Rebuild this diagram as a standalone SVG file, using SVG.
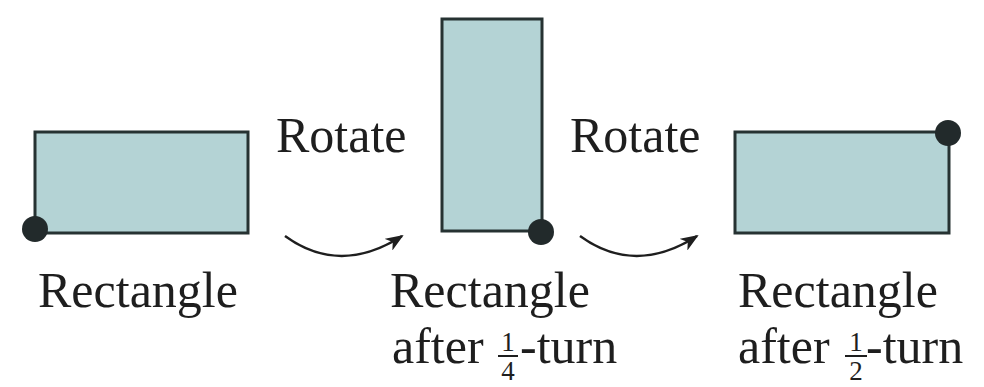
<svg xmlns="http://www.w3.org/2000/svg" width="984" height="387" viewBox="0 0 984 387">
<style>
.shape{fill:#b4d3d5;stroke:#263232;stroke-width:3}
.dot{fill:#222a2b}
.t{font-family:"Liberation Serif","Times New Roman",serif;font-size:50px;fill:#1e1e1e}
.f{font-family:"Liberation Serif","Times New Roman",serif;font-size:27px;fill:#1e1e1e;text-anchor:middle}
.bar{stroke:#1e1e1e;stroke-width:2}
.arc{fill:none;stroke:#1e1e1e;stroke-width:2.5}
</style>
<defs>
<marker id="ah" markerUnits="userSpaceOnUse" viewBox="0 0 18 14" refX="16" refY="7" markerWidth="18" markerHeight="14" orient="auto">
<path d="M0,0 L18,7 L0,14 L5,7 z" fill="#1e1e1e"/>
</marker>
</defs>
<rect width="984" height="387" fill="#ffffff"/>
<g id="rect1">
<rect class="shape" x="35" y="132" width="213" height="101"/>
<circle class="dot" cx="35" cy="229" r="13"/>
<text class="t" x="38" y="307">Rectangle</text>
</g>
<g id="rect2">
<rect class="shape" x="442" y="19" width="100" height="212"/>
<circle class="dot" cx="541" cy="232" r="13"/>
<text class="t" x="390" y="307">Rectangle</text>
<text class="t" x="392" y="363">after</text>
<text class="f" x="508" y="351">1</text>
<line class="bar" x1="498" y1="356" x2="518" y2="356"/>
<text class="f" x="508" y="380">4</text>
<text class="t" x="520" y="363">-turn</text>
</g>
<g id="rect3">
<rect class="shape" x="735" y="132" width="214" height="101"/>
<circle class="dot" cx="948" cy="133" r="13"/>
<text class="t" x="738" y="307">Rectangle</text>
<text class="t" x="738" y="363">after</text>
<text class="f" x="856" y="351">1</text>
<line class="bar" x1="845" y1="356" x2="867" y2="356"/>
<text class="f" x="856" y="380">2</text>
<text class="t" x="866" y="363">-turn</text>
</g>
<g id="connectors">
<g id="rot1">
<path class="arc" d="M285,236 Q340,276 402,236" marker-end="url(#ah)"/>
<text class="t" x="276" y="152">Rotate</text>
</g>
<g id="rot2">
<path class="arc" d="M580,236 Q635,276 697,236" marker-end="url(#ah)"/>
<text class="t" x="570" y="152">Rotate</text>
</g>
</g>
</svg>
